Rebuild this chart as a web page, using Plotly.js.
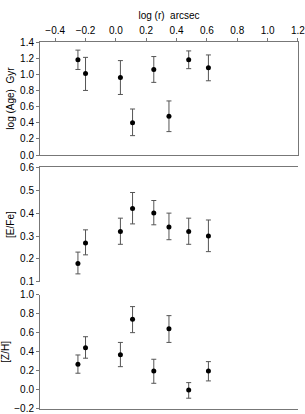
<!DOCTYPE html>
<html>
<head>
<meta charset="utf-8">
<script src="https://cdn.plot.ly/plotly-3.0.1.min.js"></script>
<style>html,body{margin:0;padding:0;background:#fff;}#chart{width:305px;height:414px;}</style>
</head>
<body>
<div id="chart"></div>
<script>
var logR = [-0.25, -0.20, 0.03, 0.11, 0.25, 0.35, 0.48, 0.61];

var logAge      = [1.18, 1.01, 0.96, 0.40, 1.06, 0.48, 1.18, 1.08];
var logAgeUp    = [1.30, 1.21, 1.17, 0.57, 1.22, 0.67, 1.29, 1.24];
var logAgeDown  = [1.06, 0.80, 0.75, 0.24, 0.90, 0.29, 1.07, 0.92];

var eFe      = [0.18, 0.27, 0.32, 0.42, 0.40, 0.34, 0.32, 0.30];
var eFeUp    = [0.23, 0.327, 0.378, 0.49, 0.455, 0.40, 0.378, 0.37];
var eFeDown  = [0.135, 0.218, 0.264, 0.353, 0.349, 0.284, 0.264, 0.232];

var zH      = [0.27, 0.445, 0.37, 0.745, 0.20, 0.645, 0.00, 0.20];
var zHUp    = [0.368, 0.56, 0.50, 0.877, 0.323, 0.782, 0.077, 0.298];
var zHDown  = [0.176, 0.334, 0.245, 0.603, 0.07, 0.50, -0.087, 0.095];

function plus(v, hi){ return v.map(function(x,i){ return +(hi[i]-x).toFixed(4); }); }
function minus(v, lo){ return v.map(function(x,i){ return +(x-lo[i]).toFixed(4); }); }

function trace(y, hi, lo, xa, ya){
  return {
    x: logR, y: y, xaxis: xa, yaxis: ya, type: 'scatter', mode: 'markers',
    marker: {color: '#000', size: 5},
    error_y: {type: 'data', symmetric: false, array: plus(y, hi), arrayminus: minus(y, lo),
              color: '#555', thickness: 1, width: 2.5},
    showlegend: false, hoverinfo: 'none'
  };
}

var data = [
  trace(logAge, logAgeUp, logAgeDown, 'x', 'y'),
  trace(eFe, eFeUp, eFeDown, 'x2', 'y2'),
  trace(zH, zHUp, zHDown, 'x3', 'y3')
];

var F = {family: 'Liberation Sans, Arial, sans-serif', size: 10, color: '#000'};
var LC = '#777';
var E = 0.0005;

var yBase = {showgrid: false, zeroline: false, showline: true, linecolor: LC, linewidth: 1,
  ticks: 'outside', ticklen: 3, tickcolor: LC, tickfont: F, tickformat: '.1f',
  ticklabeloverflow: 'allow'};

var layout = {
  width: 305, height: 414,
  margin: {l: 40, r: 7, t: 42, b: 5},
  paper_bgcolor: '#fff', plot_bgcolor: '#fff',
  font: F,
  xaxis: {anchor: 'y', side: 'top', range: [-0.5, 1.2 + E], dtick: 0.2, tick0: 0, tickformat: '.1f',
    showgrid: false, zeroline: false, showline: true, mirror: true, linecolor: LC, linewidth: 1,
    ticks: 'outside', ticklen: 3, tickcolor: LC, tickfont: F, ticklabeloverflow: 'allow',
    title: {text: 'log (r)  arcsec', font: F, standoff: 3}},
  xaxis2: {anchor: 'y2', side: 'top', matches: 'x', showgrid: false, zeroline: false,
    showline: true, linecolor: LC, linewidth: 1, showticklabels: false, ticks: ''},
  xaxis3: {anchor: 'y3', side: 'bottom', matches: 'x', showgrid: false, zeroline: false,
    showline: true, linecolor: LC, linewidth: 1, showticklabels: false, ticks: ''},
  yaxis: Object.assign({}, yBase, {domain: [0.692, 1], range: [-E, 1.4 + E], dtick: 0.2, tick0: 0, mirror: true,
    title: {text: 'log (Age)  Gyr', font: F, standoff: 3}}),
  yaxis2: Object.assign({}, yBase, {domain: [0.346, 0.659], range: [0.1 - E, 0.6 + E], dtick: 0.1, tick0: 0,
    title: {text: '[E/Fe]', font: F, standoff: 3}}),
  yaxis3: Object.assign({}, yBase, {domain: [0, 0.311], range: [-0.2 - E, 1.0 + E], dtick: 0.2, tick0: 0,
    title: {text: '[Z/H]', font: F, standoff: 3}})
};

Plotly.newPlot('chart', data, layout, {displayModeBar: false, staticPlot: true});
</script>
</body>
</html>
